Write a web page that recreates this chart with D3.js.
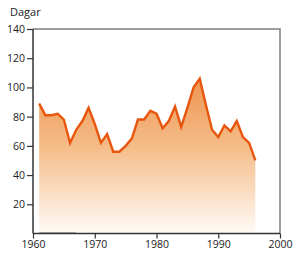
<!DOCTYPE html>
<html>
<head>
<meta charset="utf-8">
<script src="https://cdn.jsdelivr.net/npm/d3@7"></script>
<style>
  body { margin: 0; background: #fff; }
  text { font-family: "Open Sans", "DejaVu Sans", sans-serif; fill: #222; }
</style>
</head>
<body>
<div class="root"></div>
<script>
const years = d3.range(1961, 1997);
const days = [89, 81, 81, 82, 78, 62, 71, 77, 86, 75, 62, 68, 56, 56, 60, 65,
  78, 78, 84, 82, 72, 77, 87, 73, 86, 100, 106, 88, 71, 66, 74, 70, 77, 66, 62, 50];
const xTicks = [1960, 1970, 1980, 1990, 2000];
const yTicks = [20, 40, 60, 80, 100, 120, 140];

const width = 300;
const height = 262;
const margin = { top: 29, right: 20, bottom: 29, left: 33 };

const svg = d3.select("div.root").append("svg")
  .attr("width", width)
  .attr("height", height);

const x = d3.scaleLinear().domain([1960, 2000]).range([margin.left, width - margin.right]);
const y = d3.scaleLinear().domain([0, 140]).range([height - margin.bottom + 0.5, margin.top]);

const data = years.map((yr, i) => [yr, days[i]]);

const grad = svg.append("defs").append("linearGradient")
  .attr("id", "fillGrad")
  .attr("gradientUnits", "userSpaceOnUse")
  .attr("x1", 0).attr("x2", 0)
  .attr("y1", y(106)).attr("y2", y(0));
grad.append("stop").attr("offset", "0%").attr("stop-color", "#ee9550");
grad.append("stop").attr("offset", "45%").attr("stop-color", "#f5bd8a");
grad.append("stop").attr("offset", "100%").attr("stop-color", "#fffbf7");

// frame top/right
svg.append("path")
  .attr("d", `M${x(1960)},${y(140)}H${x(2000)}V${y(0)}`)
  .attr("fill", "none")
  .attr("stroke", "#7d7d7d")
  .attr("stroke-width", 1.5);

const area = d3.area()
  .x(d => x(d[0]))
  .y0(y(1))
  .y1(d => y(d[1]));
svg.append("path").datum(data)
  .attr("d", area)
  .attr("fill", "url(#fillGrad)");

// faint baseline stroke seen in the original
svg.append("line")
  .attr("x1", x(1961)).attr("x2", x(1967))
  .attr("y1", y(0.5)).attr("y2", y(0.5))
  .attr("stroke", "#999").attr("stroke-width", 1);

const line = d3.line().x(d => x(d[0])).y(d => y(d[1]));
svg.append("path").datum(data)
  .attr("d", line)
  .attr("fill", "none")
  .attr("stroke", "#e8560e")
  .attr("stroke-width", 2.4)
  .attr("stroke-linejoin", "miter");

const yAxis = d3.axisLeft(y).tickValues(yTicks).tickSize(6).tickPadding(2);
const gy = svg.append("g")
  .attr("transform", `translate(${margin.left},0)`)
  .call(yAxis);
gy.select(".domain").attr("d", `M0,${y(140)}V${y(0)}`).attr("stroke", "#333").attr("stroke-width", 1.5);
gy.selectAll(".tick line").attr("stroke", "#333").attr("stroke-width", 1.2);
gy.selectAll(".tick text").attr("font-size", 10.5).attr("fill", "#222")
  .style("font-family", "'Open Sans', sans-serif");

const xAxis = d3.axisBottom(x).tickValues(xTicks).tickFormat(d3.format("d")).tickSize(5).tickPadding(2);
const gx = svg.append("g")
  .attr("transform", `translate(0,${y(0)})`)
  .call(xAxis);
gx.select(".domain").attr("d", `M${x(1960)},0H${x(2000)}`).attr("stroke", "#333").attr("stroke-width", 1.5);
gx.selectAll(".tick line").attr("stroke", "#333").attr("stroke-width", 1.2);
gx.selectAll(".tick text").attr("font-size", 10.5).attr("fill", "#222")
  .style("font-family", "'Open Sans', sans-serif");

svg.append("text")
  .attr("x", 10)
  .attr("y", 16)
  .attr("font-size", 11)
  .text("Dagar");
</script>
</body>
</html>
